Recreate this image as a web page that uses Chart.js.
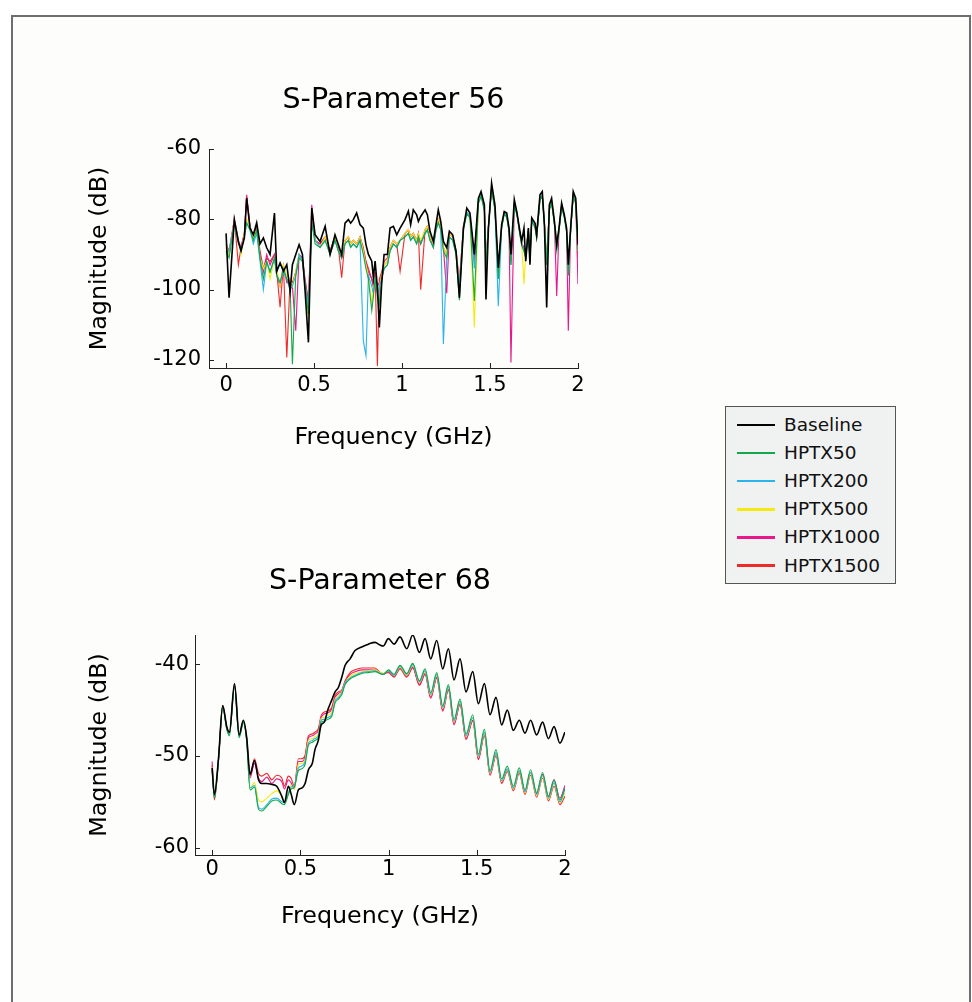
<!DOCTYPE html>
<html>
<head>
<meta charset="utf-8">
<script src="https://cdn.jsdelivr.net/npm/chart.js@4/dist/chart.umd.min.js"></script>
<style>
html, body { margin: 0; padding: 0; background: #ffffff; width: 972px; height: 1002px; overflow: hidden; font-family: "DejaVu Sans", sans-serif; }
#frame { position: absolute; left: 11px; top: 15px; width: 956px; height: 1000px; border: 2px solid #6e6e6e; border-bottom: none; background: #fdfdfb; }
#c1 { position: absolute; left: 0; top: 0; }
#c2 { position: absolute; left: 0; top: 480px; }
#legend { position: absolute; left: 725px; top: 406px; width: 171px; height: 178px; border: 1px solid #555; background: #f0f1f1; box-sizing: border-box; z-index: 5; }
.row { position: absolute; left: 0; width: 168px; height: 28px; }
.sw { position: absolute; left: 11px; width: 38px; }
.lt { position: absolute; left: 58px; top: 0; line-height: 28px; font-size: 18.5px; color: #111; white-space: nowrap; }
</style>
</head>
<body>
<div id="frame"></div>
<canvas id="c1" width="972" height="480"></canvas>
<canvas id="c2" width="972" height="522"></canvas>
<div id="legend"></div>
<script>
// ---------- data ----------
const seriesNames = ['Baseline', 'HPTX50', 'HPTX200', 'HPTX500', 'HPTX1000', 'HPTX1500'];
const seriesColors = ['#000000', '#14a84b', '#2ab4ec', '#f5ea10', '#e8178a', '#ee2b2b'];
const xTickValues = [0, 0.5, 1, 1.5, 2];
const yTicksTop = [-60, -80, -100, -120];
const yTicksBottom = [-40, -50, -60];

// S-Parameter 56
const freqTop = [0, 0.017, 0.047, 0.07, 0.085, 0.104, 0.117, 0.136, 0.155, 0.174,
  0.193, 0.212, 0.231, 0.25, 0.275, 0.288, 0.307, 0.326, 0.345, 0.364,
  0.377, 0.396, 0.415, 0.434, 0.449, 0.468, 0.487, 0.506, 0.534, 0.563,
  0.591, 0.619, 0.638, 0.657, 0.676, 0.695, 0.708, 0.723, 0.742, 0.761,
  0.78, 0.795, 0.809, 0.828, 0.837, 0.847, 0.86, 0.871, 0.884, 0.898,
  0.917, 0.932, 0.951, 0.97, 0.989, 1.017, 1.036, 1.049, 1.064, 1.083,
  1.093, 1.106, 1.131, 1.144, 1.159, 1.178, 1.193, 1.206, 1.22, 1.235,
  1.254, 1.269, 1.288, 1.307, 1.326, 1.349, 1.368, 1.386, 1.411, 1.434,
  1.449, 1.468, 1.477, 1.491, 1.509, 1.528, 1.547, 1.566, 1.581, 1.595,
  1.608, 1.619, 1.638, 1.652, 1.67, 1.68, 1.693, 1.703, 1.718, 1.727,
  1.737, 1.756, 1.765, 1.784, 1.797, 1.809, 1.822, 1.837, 1.85, 1.866,
  1.879, 1.892, 1.907, 1.922, 1.935, 1.945, 1.958, 1.973, 1.987, 2.0];

const topBaseline = [-84, -102.3, -80.1, -86.3, -89, -85.3, -74, -82.5, -84.4, -81,
  -87, -85.3, -88.1, -90, -78.2, -94.8, -92.4, -94.8, -92.9, -100.4,
  -92.9, -90, -87.2, -90, -100.4, -115, -76.8, -84.4, -86.3, -82,
  -90, -84.4, -87.2, -90, -81.1, -80.1, -81.1, -80.1, -78.2, -81.5,
  -82.5, -87.2, -90, -91.9, -96.6, -91.9, -99.5, -110.8, -98.5, -90,
  -90, -82.5, -82, -84.4, -82.5, -80.1, -77.7, -81.5, -77.3, -78.7,
  -80.6, -79.2, -77.3, -78.7, -83.4, -86.3, -81.5, -77.3, -80.6, -86.3,
  -88.1, -83.4, -84.4, -89.1, -102.3, -82.5, -76.8, -78.2, -90, -74,
  -72.1, -75.9, -102.8, -82.5, -69.7, -75.9, -93.8, -81.5, -77.8, -78.2,
  -82.5, -90, -74.4, -77.8, -83.4, -86.3, -82.5, -91.9, -82.5, -92.9,
  -79.6, -81.1, -84.4, -73, -72.1, -81.5, -105.1, -75.9, -74, -80.6,
  -87.2, -82.5, -75.4, -78.7, -82.5, -92.9, -82.5, -72.1, -74, -87.2];

const topHPTX50 = [-89, -91, -81, -87, -88.5, -85, -81, -83, -86, -83,
  -91, -97, -92, -95, -91, -96, -98, -94, -97, -99,
  -121.2, -96, -91, -92, -99, -107, -81, -87, -88, -86,
  -90, -86, -89, -91, -87, -86, -88, -87, -88, -86,
  -90, -94, -97, -106, -102, -97, -101, -104, -97, -94,
  -93, -89, -87, -88, -86, -85, -84, -86, -85, -87,
  -85, -87, -84, -83, -86, -88, -83, -81, -83, -89,
  -91, -85, -86, -90, -103, -83, -78.5, -79.5, -103.2, -75.5,
  -73.5, -77.5, -93, -82.5, -71.5, -77.5, -97, -82.5, -78.5, -79.5,
  -83.5, -93, -76.5, -78.5, -84.5, -87.5, -89, -91, -83.5, -92,
  -80.5, -82.5, -85.5, -74.5, -73.5, -81.5, -93, -77.5, -75.5, -81.5,
  -89, -83.5, -76.5, -79.5, -83.5, -96, -83.5, -73.5, -75.5, -89];

const topHPTX200 = [-90, -89, -81.5, -86.5, -89, -85, -81, -83, -87, -84,
  -92, -100, -92, -95, -91, -96, -98, -95, -97, -100,
  -99, -96, -90, -92, -98, -105, -81, -86, -88, -86,
  -90, -86, -89, -91, -87, -86, -88, -87, -88, -86,
  -114.6, -118.8, -96, -99, -101, -97, -102, -99, -97, -94,
  -93, -89, -87, -88, -86, -85, -84, -86, -85, -87,
  -85, -87, -84, -83, -86, -88, -83, -81, -83, -115.5,
  -91, -85, -86, -90, -99, -82.5, -78, -79, -94, -75,
  -73, -77, -93, -82, -71, -77, -104.7, -82.5, -78, -79,
  -83, -93, -76, -78, -84, -87, -89, -91, -83, -92,
  -80, -82, -85, -74, -73, -81, -93, -77, -75, -81,
  -88, -83, -76, -79, -83, -96, -83, -73, -75, -88];

const topHPTX500 = [-87, -90, -80.5, -86, -90, -84, -80, -82, -85, -83,
  -91, -94, -92, -97, -91, -94, -99, -93, -96, -97,
  -99, -95, -90, -92, -99, -108, -81, -86, -88, -85,
  -90, -85, -89, -90, -86, -85, -87, -86, -87, -85,
  -89, -93, -96, -104, -100, -97, -101, -99, -96, -93,
  -92, -88, -86, -87, -86, -84, -83, -85, -84, -86,
  -84, -86, -83, -82, -85, -87, -82, -80, -82, -88,
  -90, -84, -85, -89, -99, -82, -78, -79, -110.8, -75,
  -73, -77, -92, -82, -71, -77, -97, -82, -78, -79,
  -83, -92, -76, -78, -84, -87, -98.5, -90, -83, -91,
  -80, -82, -85, -74, -73, -81, -92, -77, -75, -81,
  -88, -83, -76, -79, -83, -95, -83, -73, -75, -89];

const topHPTX1000 = [-88, -90, -80, -86, -88, -84, -73.5, -82, -85, -82,
  -90, -95, -90, -93, -90, -96, -99, -93, -98, -98,
  -99, -111.7, -90, -91, -98, -104, -75.9, -86, -87, -85,
  -89, -85, -88, -91, -86, -85, -87, -86, -87, -85,
  -89, -92, -95, -97, -99, -96, -99, -98, -96, -93,
  -92, -88, -86, -87, -86, -84, -83, -85, -84, -86,
  -84, -87, -83, -82, -85, -88, -82, -80, -82, -88,
  -101, -84, -85, -89, -98, -82, -78, -79, -91, -75,
  -73, -77, -91, -82, -71, -77, -95, -82, -78, -79,
  -83, -120.7, -76, -78, -84, -87, -88, -90, -83, -91,
  -80, -82, -85, -74, -73, -81, -92, -77, -75, -81,
  -101.8, -83, -76, -79, -83, -111.7, -83, -73, -75, -98.5];

const topHPTX1500 = [-87, -89, -80, -92.9, -88, -84, -73, -82, -85, -82,
  -89, -94, -91, -92, -90, -95, -105, -93, -119.3, -97,
  -98, -95, -90, -91, -97, -103, -80, -86, -87, -85,
  -89, -85, -88, -96.6, -86, -85, -87, -86, -87, -85,
  -88, -92, -94, -97, -99, -95, -121.7, -97, -95, -92,
  -91, -88, -86, -87, -94.8, -84, -83, -85, -84, -86,
  -84, -100, -83, -82, -85, -87, -82, -80, -82, -88,
  -90, -84, -85, -89, -98, -82, -78, -79, -92, -75,
  -73, -77, -92, -82, -71, -77, -95, -82, -78, -79,
  -83, -92, -76, -78, -84, -87, -88, -90, -83, -91,
  -80, -82, -85, -74, -73, -81, -92, -77, -75, -81,
  -88, -83, -76, -79, -83, -95, -83, -73, -75, -91];

// S-Parameter 68
const freqBottom = [0, 0.013, 0.036, 0.06, 0.083, 0.098, 0.127, 0.153, 0.177, 0.196,
  0.215, 0.24, 0.263, 0.281, 0.31, 0.338, 0.366, 0.395, 0.41, 0.432,
  0.447, 0.466, 0.489, 0.508, 0.527, 0.546, 0.568, 0.583, 0.602, 0.618,
  0.636, 0.655, 0.678, 0.697, 0.716, 0.735, 0.754, 0.782, 0.81, 0.848,
  0.886, 0.923, 0.952, 0.97, 0.999, 1.031, 1.065, 1.103, 1.137, 1.175,
  1.207, 1.239, 1.273, 1.307, 1.339, 1.371, 1.405, 1.439, 1.477, 1.509,
  1.543, 1.575, 1.609, 1.641, 1.673, 1.707, 1.741, 1.773, 1.805, 1.839,
  1.873, 1.906, 1.938, 1.971, 2.0];

const botBaseline = [-51.3, -54.2, -50.3, -44.5, -46.8, -47.4, -42.1, -47.7, -46.1, -48.0,
  -52.0, -50.5, -52.6, -53.0, -53.0, -53.1, -53.3, -54.4, -55.1, -53.3,
  -54.1, -55.3, -53.7, -53.5, -53.0, -51.5, -50.8, -49.3, -48.3, -46.6,
  -46.3, -45.0, -43.9, -43.0, -42.5, -41.4, -40.1, -39.4, -38.5, -38.1,
  -37.8, -37.6, -37.9, -38.0, -37.2, -37.8, -37.0, -38.3, -36.8, -38.7,
  -37.2, -39.4, -37.4, -40.5, -38.3, -41.7, -39.4, -43.0, -40.8, -44.3,
  -42.1, -45.5, -43.6, -46.6, -45.0, -47.2, -46.1, -47.5, -46.1, -47.7,
  -46.3, -48.1, -46.8, -48.6, -47.4];

const botHPTX50 = [-51.5, -54.6, -50.5, -44.7, -47.1, -47.8, -42.4, -48.0, -46.4, -48.4,
  -53.7, -53.4, -55.8, -56.0, -55.5, -54.9, -54.8, -55.2, -55.3, -54.2,
  -53.6, -53.4, -51.6, -51.4, -50.9, -48.8, -48.5, -48.3, -48.0, -46.3,
  -46.2, -46.0, -45.7, -44.2, -43.8, -43.3, -42.2, -41.6, -41.3, -41.0,
  -40.9, -40.8, -41.0, -41.1, -40.6, -41.1, -40.1, -41.0, -39.9, -41.8,
  -40.5, -43.1, -40.9, -44.5, -42.2, -46.0, -43.8, -47.6, -45.5, -49.8,
  -47.1, -51.6, -49.3, -52.5, -51.1, -53.3, -51.3, -53.7, -51.5, -54.0,
  -51.8, -54.4, -52.6, -54.8, -53.5];

const botHPTX200 = [-51.4, -54.5, -50.4, -44.6, -47.0, -47.7, -42.3, -47.9, -46.3, -48.3,
  -53.5, -53.2, -55.6, -55.8, -55.3, -54.7, -54.6, -55.0, -55.1, -54.0,
  -53.4, -53.2, -51.3, -51.1, -50.6, -48.6, -48.3, -48.1, -47.8, -46.1,
  -46.0, -45.8, -45.5, -44.0, -43.6, -43.1, -42.0, -41.5, -41.2, -40.9,
  -40.8, -40.7, -41.0, -41.1, -40.7, -41.2, -40.2, -41.1, -40.0, -41.9,
  -40.7, -43.3, -41.1, -44.7, -42.4, -46.2, -44.0, -47.8, -45.8, -50.0,
  -47.4, -51.8, -49.6, -52.7, -51.4, -53.5, -51.6, -53.9, -51.8, -54.2,
  -52.1, -54.6, -52.9, -55.0, -53.6];

const botHPTX500 = [-51.2, -54.4, -50.4, -44.6, -46.9, -47.6, -42.2, -47.8, -46.2, -48.2,
  -53.5, -52.9, -54.8, -55.0, -54.6, -54.1, -53.8, -54.4, -55.0, -54.2,
  -53.2, -53.6, -50.9, -50.8, -50.4, -48.3, -48.1, -47.9, -47.6, -45.9,
  -45.8, -45.6, -45.2, -43.8, -43.4, -43.0, -42.0, -41.3, -41.0, -40.8,
  -40.7, -40.6, -40.9, -41.0, -40.7, -41.2, -40.3, -41.2, -40.1, -42.0,
  -40.8, -43.4, -41.2, -44.8, -42.5, -46.3, -44.1, -47.9, -45.9, -50.1,
  -47.5, -51.9, -49.7, -52.8, -51.5, -53.6, -51.7, -54.0, -51.9, -54.3,
  -52.2, -54.7, -53.0, -55.1, -54.0];

const botHPTX1000 = [-50.6, -54.5, -50.4, -44.6, -46.9, -47.5, -42.2, -47.8, -46.2, -48.1,
  -52.4, -50.8, -52.4, -52.8, -52.3, -53.0, -52.5, -52.8, -53.6, -52.6,
  -52.9, -53.6, -50.6, -50.6, -50.1, -48.0, -47.8, -47.6, -47.2, -45.8,
  -45.4, -45.3, -44.9, -43.6, -43.2, -42.9, -41.9, -41.1, -40.8, -40.6,
  -40.6, -40.6, -41.0, -41.1, -40.8, -41.3, -40.4, -41.3, -40.3, -42.2,
  -41.0, -43.6, -41.4, -45.0, -42.7, -46.5, -44.3, -48.1, -46.1, -50.3,
  -47.6, -52.0, -49.8, -52.9, -51.5, -53.6, -51.7, -54.0, -51.8, -54.1,
  -52.0, -54.4, -52.6, -54.6, -53.2];

const botHPTX1500 = [-51.0, -54.8, -50.5, -44.5, -46.9, -47.5, -42.2, -47.8, -46.2, -48.1,
  -52.2, -50.3, -51.9, -52.2, -51.9, -52.6, -52.1, -52.4, -53.3, -52.2,
  -52.4, -53.3, -50.3, -50.3, -49.9, -47.8, -47.6, -47.4, -47.0, -45.6,
  -45.2, -45.1, -44.7, -43.4, -43.0, -42.8, -41.8, -40.9, -40.6, -40.4,
  -40.4, -40.4, -40.9, -41.0, -40.9, -41.4, -40.5, -41.4, -40.4, -42.3,
  -41.1, -43.7, -41.5, -45.1, -42.8, -46.6, -44.4, -48.2, -46.2, -50.4,
  -47.8, -52.1, -50.0, -53.0, -51.7, -53.8, -51.9, -54.2, -52.1, -54.5,
  -52.4, -54.9, -53.3, -55.3, -54.4];

// ---------- rendering ----------
Chart.defaults.font.family = "'DejaVu Sans', sans-serif";
Chart.defaults.color = '#000';

const inwardTicks = {
  id: 'inwardTicks',
  afterDraw(chart, args, opts) {
    const { ctx, chartArea, scales } = chart;
    ctx.save();
    ctx.strokeStyle = opts.color;
    ctx.lineWidth = 1;
    ctx.beginPath();
    scales.x.ticks.forEach(t => {
      const px = Math.round(scales.x.getPixelForValue(t.value)) + 0.5;
      ctx.moveTo(px, chartArea.bottom);
      ctx.lineTo(px, chartArea.bottom - opts.length);
    });
    scales.y.ticks.forEach(t => {
      const py = Math.round(scales.y.getPixelForValue(t.value)) + 0.5;
      ctx.moveTo(chartArea.left, py);
      ctx.lineTo(chartArea.left + opts.length, py);
    });
    ctx.stroke();
    ctx.restore();
  }
};

function buildChart(id, o) {
  const datasets = o.series.map((vals, i) => ({
    label: seriesNames[i],
    data: vals.map((v, k) => ({ x: o.freq[k], y: v })),
    borderColor: seriesColors[i],
    backgroundColor: seriesColors[i],
    borderWidth: i === 0 ? o.blackWidth : o.colorWidth,
    pointRadius: 0,
    tension: 0,
    cubicInterpolationMode: o.smooth ? 'monotone' : 'default',
    fill: false
  }));
  return new Chart(document.getElementById(id), {
    type: 'line',
    data: { datasets },
    options: {
      responsive: false,
      animation: false,
      devicePixelRatio: 1,
      events: [],
      layout: { padding: { left: 0, top: 0, bottom: 0, right: o.padRight } },
      plugins: {
        legend: { display: false },
        tooltip: { enabled: false },
        title: {
          display: true, text: o.title, fullSize: false, color: '#000',
          font: { size: 28.5, weight: 'normal', lineHeight: 1.2 },
          padding: { top: o.titleTop, bottom: o.titleBottom }
        },
        inwardTicks: { length: 5, color: '#222' }
      },
      scales: {
        x: {
          type: 'linear', position: 'bottom', min: -0.097, max: 2,
          afterBuildTicks: s => { s.ticks = xTickValues.map(v => ({ value: v })); },
          afterFit: s => { s.height = o.xHeight; s.paddingLeft = 0; s.paddingRight = 0; },
          grid: { display: false, drawTicks: false, tickLength: 0 },
          border: { display: true, color: '#222', width: 1 },
          ticks: { padding: o.xTickPad, color: '#000', font: { size: 21, lineHeight: 1.2 }, maxRotation: 0, autoSkip: false, callback: v => String(v) },
          title: { display: true, text: 'Frequency (GHz)', color: '#000', font: { size: 23.8, lineHeight: 1.2 }, padding: { top: 0, bottom: o.xTitleBottom } }
        },
        y: {
          type: 'linear', position: 'left', min: o.yMin, max: o.yMax,
          afterBuildTicks: s => { s.ticks = o.yTicks.map(v => ({ value: v })); },
          afterFit: s => { s.width = o.yWidth; s.paddingTop = 0; s.paddingBottom = 0; },
          grid: { display: false, drawTicks: false, tickLength: 0 },
          border: { display: true, color: '#222', width: 1 },
          ticks: { padding: o.yTickPad, color: '#000', font: { size: 21, lineHeight: 1.2 }, autoSkip: false, callback: v => String(v) },
          title: { display: true, text: 'Magnitude (dB)', color: '#000', font: { size: 23.8, lineHeight: 1.2 }, padding: { top: o.yTitleLeft, bottom: 0 } }
        }
      }
    },
    plugins: [inwardTicks]
  });
}

buildChart('c1', {
  title: 'S-Parameter 56',
  freq: freqTop,
  series: [topBaseline, topHPTX50, topHPTX200, topHPTX500, topHPTX1000, topHPTX1500],
  smooth: false, blackWidth: 1.6, colorWidth: 1.1,
  yMin: -122.3, yMax: -60, yTicks: yTicksTop,
  padRight: 394, titleTop: 83.4, titleBottom: 31.4,
  xHeight: 112, xTickPad: 5, xTitleBottom: 27.7,
  yWidth: 209, yTickPad: 8, yTitleLeft: 85.7
});

buildChart('c2', {
  title: 'S-Parameter 68',
  freq: freqBottom,
  series: [botBaseline, botHPTX50, botHPTX200, botHPTX500, botHPTX1000, botHPTX1500],
  smooth: true, blackWidth: 1.6, colorWidth: 1.1,
  yMin: -60.8, yMax: -36.8, yTicks: yTicksBottom,
  padRight: 407, titleTop: 84.4, titleBottom: 36.4,
  xHeight: 147, xTickPad: 2, xTitleBottom: 70.7,
  yWidth: 195, yTickPad: 6, yTitleLeft: 85.7
});

// legend (HTML, built from the series arrays)
const legendEl = document.getElementById('legend');
seriesNames.forEach((name, i) => {
  const row = document.createElement('div');
  row.className = 'row';
  row.style.top = (4 + i * 28.1) + 'px';
  const sw = document.createElement('span');
  sw.className = 'sw';
  const th = i === 0 ? 1.5 : 2.5;
  sw.style.top = (14 - th / 2) + 'px';
  sw.style.height = th + 'px';
  sw.style.background = seriesColors[i];
  const lt = document.createElement('span');
  lt.className = 'lt';
  lt.textContent = name;
  row.appendChild(sw);
  row.appendChild(lt);
  legendEl.appendChild(row);
});
</script>
</body>
</html>
